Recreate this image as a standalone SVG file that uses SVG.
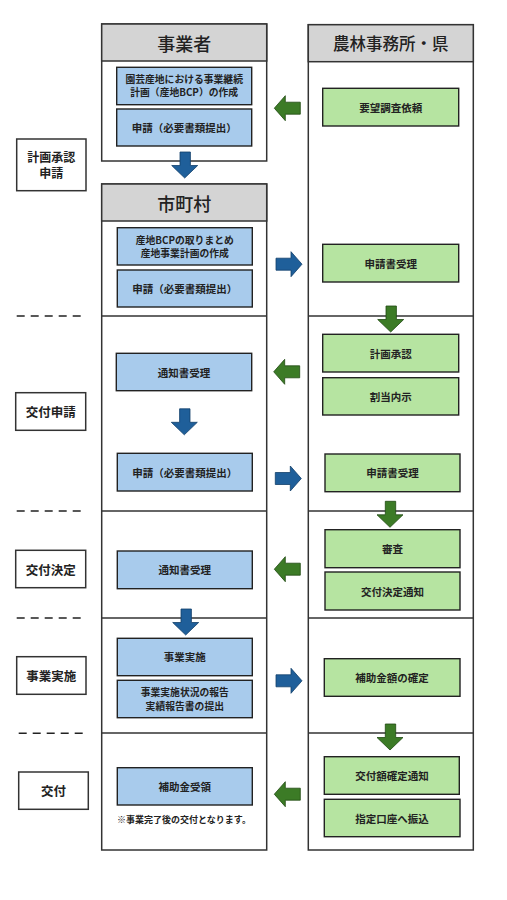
<svg xmlns="http://www.w3.org/2000/svg" width="507" height="900" viewBox="0 0 507 900">
<style>
.col{fill:#fff;stroke:#333;stroke-width:1.5}
.hdr{fill:#d4d4d4;stroke:#333;stroke-width:1.5}
.div{stroke:#333;stroke-width:1.5}
.dash{stroke:#222;stroke-width:1.6;stroke-dasharray:8 6}
.b{fill:#a8cbec;stroke:#222;stroke-width:1.4}
.g{fill:#b6e4a1;stroke:#222;stroke-width:1.4}
.lab{fill:#fff;stroke:#333;stroke-width:1.5}
text{font-family:"Noto Sans CJK JP","Noto Sans",sans-serif;fill:#222;text-anchor:middle;dominant-baseline:central}
.t{font-size:10.5px;font-weight:bold}
.t2{font-size:9.8px;font-weight:bold}
.h{font-size:18px;font-weight:500}
.l{font-size:12.5px;font-weight:bold}
.n{font-size:9px;font-weight:bold}
.ab{fill:#1f5f9a;stroke:#123f6a;stroke-width:0.8}
.ag{fill:#3c7b26;stroke:#1f4a12;stroke-width:0.8}
</style>
<defs>
<path id="aL" d="M0,12.5 L11,0 L11,6.5 L26,6.5 L26,18.5 L11,18.5 L11,25 Z"/>
<path id="aR" d="M26,12.5 L15,0 L15,6.5 L0,6.5 L0,18.5 L15,18.5 L15,25 Z"/>
<path id="aD" d="M8.3,0 L18.7,0 L18.7,13.5 L26,13.5 L13,26 L0,13.5 L8.3,13.5 Z"/>
</defs>

<g id="col-jigyosha">
<rect class="col" x="101.7" y="24" width="165" height="137"/>
<rect class="hdr" x="101.7" y="24" width="165" height="37"/>
<text class="h" x="184.2" y="42.5">事業者</text>
</g>
<g id="col-shichoson">
<rect class="col" x="101.7" y="184" width="165" height="666"/>
<rect class="hdr" x="101.7" y="184" width="165" height="37"/>
<text class="h" x="184.2" y="202.5">市町村</text>
<line class="div" x1="101.7" y1="316" x2="266.7" y2="316"/>
<line class="div" x1="101.7" y1="511" x2="266.7" y2="511"/>
<line class="div" x1="101.7" y1="618" x2="266.7" y2="618"/>
<line class="div" x1="101.7" y1="733" x2="266.7" y2="733"/>
</g>
<g id="col-ken">
<rect class="col" x="308.3" y="24.7" width="165" height="825.3"/>
<rect class="hdr" x="308.3" y="24.7" width="165" height="37"/>
<text class="h" x="390.8" y="43" style="font-size:16.5px">農林事務所・県</text>
<line class="div" x1="308.3" y1="316" x2="473.3" y2="316"/>
<line class="div" x1="308.3" y1="511" x2="473.3" y2="511"/>
<line class="div" x1="308.3" y1="618" x2="473.3" y2="618"/>
<line class="div" x1="308.3" y1="733" x2="473.3" y2="733"/>
</g>

<g id="stage-labels">
<g id="lab1"><rect class="lab" x="16.7" y="139" width="69.3" height="51.7"/><text class="l" x="51.3" y="156" style="font-size:12px">計画承認</text><text class="l" x="51.3" y="172.5" style="font-size:12px">申請</text></g>
<g id="lab2"><rect class="lab" x="15.7" y="392.7" width="70" height="37.6"/><text class="l" x="50.7" y="411.5">交付申請</text></g>
<g id="lab3"><rect class="lab" x="15.7" y="550.3" width="70" height="37.4"/><text class="l" x="50.7" y="569">交付決定</text></g>
<g id="lab4"><rect class="lab" x="16.7" y="656.7" width="69.3" height="37.6"/><text class="l" x="51.3" y="675.5">事業実施</text></g>
<g id="lab5"><rect class="lab" x="18.7" y="772" width="69.6" height="37.3"/><text class="l" x="53.5" y="790.7">交付</text></g>
<line class="dash" x1="16.7" y1="316" x2="84" y2="316"/>
<line class="dash" x1="16.7" y1="511" x2="84" y2="511"/>
<line class="dash" x1="16.7" y1="618" x2="84" y2="618"/>
<line class="dash" x1="18.7" y1="733.3" x2="86" y2="733.3"/>
</g>

<g id="n1"><rect class="b" x="116.7" y="67.3" width="135" height="37.4"/><text class="t2" x="184.2" y="78.8">園芸産地における事業継続</text><text class="t2" x="184.2" y="92">計画（産地BCP）の作成</text></g>
<g id="n2"><rect class="b" x="116.7" y="109" width="135" height="37"/><text class="t" x="184.2" y="127.7">申請（必要書類提出）</text></g>
<g id="n3"><rect class="b" x="117.3" y="227.7" width="135" height="37.3"/><text class="t2" x="184.8" y="239.8">産地BCPの取りまとめ</text><text class="t2" x="184.8" y="253">産地事業計画の作成</text></g>
<g id="n4"><rect class="b" x="117.3" y="270" width="135" height="37"/><text class="t" x="184.8" y="288.7">申請（必要書類提出）</text></g>
<g id="n5"><rect class="b" x="116.3" y="353.3" width="135.4" height="37.4"/><text class="t" x="184" y="372">通知書受理</text></g>
<g id="n6"><rect class="b" x="117.3" y="453.3" width="135" height="37.7"/><text class="t" x="184.8" y="472.3">申請（必要書類提出）</text></g>
<g id="n7"><rect class="b" x="117.3" y="551" width="135" height="37.7"/><text class="t" x="184.8" y="569.5">通知書受理</text></g>
<g id="n8"><rect class="b" x="117.3" y="638.3" width="135" height="37.4"/><text class="t" x="184.8" y="656.5">事業実施</text></g>
<g id="n9"><rect class="b" x="117.3" y="680.3" width="135" height="37.4"/><text class="t2" x="184.8" y="692.4">事業実施状況の報告</text><text class="t2" x="184.8" y="705.6">実績報告書の提出</text></g>
<g id="n10"><rect class="b" x="117.3" y="767.7" width="135" height="37.3"/><text class="t" x="184.8" y="786">補助金受領</text></g>
<g id="note"><text class="n" x="184" y="819">※事業完了後の交付となります。</text></g>

<g id="g1"><rect class="g" x="322.7" y="88.3" width="136" height="37.7"/><text class="t" x="390.7" y="107">要望調査依頼</text></g>
<g id="g2"><rect class="g" x="322.7" y="244.3" width="136" height="37.7"/><text class="t" x="390.7" y="263">申請書受理</text></g>
<g id="g3"><rect class="g" x="322.7" y="334.3" width="136" height="37.7"/><text class="t" x="390.7" y="353.3">計画承認</text></g>
<g id="g4"><rect class="g" x="322.7" y="377.7" width="136" height="37.3"/><text class="t" x="390.7" y="396">割当内示</text></g>
<g id="g5"><rect class="g" x="325" y="454" width="135" height="37.7"/><text class="t" x="392.5" y="472.5">申請書受理</text></g>
<g id="g6"><rect class="g" x="325" y="529.7" width="135" height="38"/><text class="t" x="392.5" y="548.5">審査</text></g>
<g id="g7"><rect class="g" x="325" y="572" width="135" height="38"/><text class="t" x="392.5" y="591">交付決定通知</text></g>
<g id="g8"><rect class="g" x="324.3" y="658.7" width="135.7" height="37.6"/><text class="t" x="392" y="677">補助金額の確定</text></g>
<g id="g9"><rect class="g" x="324.3" y="756.7" width="135" height="37.6"/><text class="t" x="392" y="775.7">交付額確定通知</text></g>
<g id="g10"><rect class="g" x="324.3" y="799.3" width="135.7" height="37.4"/><text class="t" x="392" y="818.3">指定口座へ振込</text></g>

<g id="connectors">
<use href="#aL" class="ag" x="274.3" y="95.7"/>
<use href="#aD" class="ab" x="171.7" y="152"/>
<use href="#aR" class="ab" x="276" y="251.7"/>
<use href="#aD" class="ag" x="377.7" y="306"/>
<use href="#aL" class="ag" x="273.7" y="359.3"/>
<use href="#aD" class="ab" x="171.3" y="408.8"/>
<use href="#aR" class="ab" x="275.3" y="466"/>
<use href="#aD" class="ag" x="377" y="501.3"/>
<use href="#aL" class="ag" x="274.3" y="556.7"/>
<use href="#aD" class="ab" x="172.7" y="609"/>
<use href="#aR" class="ab" x="276" y="668.3"/>
<use href="#aD" class="ag" x="377" y="724"/>
<use href="#aL" class="ag" x="274.3" y="781.7"/>
</g>
</svg>
